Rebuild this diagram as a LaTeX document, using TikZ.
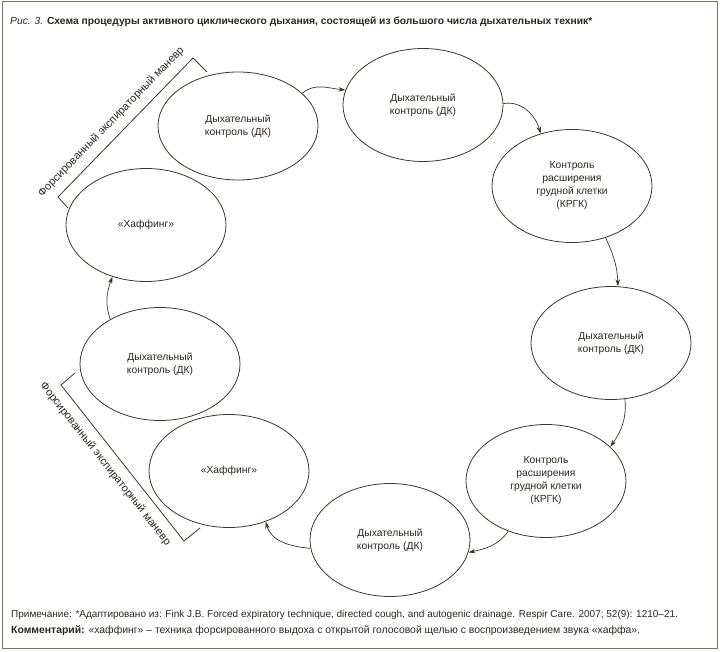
\documentclass[tikz,border=0pt]{standalone}
\usepackage{fontspec}
\setmainfont{Liberation Sans}
\usetikzlibrary{arrows.meta,shapes.geometric}
\definecolor{lc}{HTML}{3D342A}
\definecolor{tc}{HTML}{2B2520}
\definecolor{fc}{HTML}{7D7467}
\begin{document}
\begin{tikzpicture}[x=1pt,y=1pt,
  el/.style={ellipse,draw=lc,line width=0.8pt,minimum width=160pt,minimum height=113pt,inner sep=0pt,align=center,text=tc,font=\fontsize{10.3}{13}\selectfont},
  arr/.style={draw=lc,line width=0.7pt,-{Stealth[length=7pt,width=4.5pt]}},
  br/.style={draw=lc,line width=0.8pt},
  lbl/.style={text=tc,font=\fontsize{11}{13}\selectfont,inner sep=0pt,sloped}]
\useasboundingbox (0,0) rectangle (720,651);
\draw[fc,line width=1.6pt] (2.5,2.5) rectangle (717.5,649.5);
% title
\node[anchor=base west,text=tc,font=\fontsize{10.3}{12}\selectfont,inner sep=0pt] (title) at (10,626) {\textit{Рис. 3.} \textbf{Схема процедуры активного циклического дыхания, состоящей из большого числа дыхательных техник*}};
% ellipses
\node[el,minimum height=108pt] (E1) at (238,525) {Дыхательный\\контроль (ДК)};
\node[el] (E2) at (423,546) {Дыхательный\\контроль (ДК)};
\node[el] (E3) at (572,465) {Контроль\\расширения\\грудной клетки\\(КРГК)};
\node[el] (E4) at (611,308) {Дыхательный\\контроль (ДК)};
\node[el] (E5) at (546,170) {Контроль\\расширения\\грудной клетки\\(КРГК)};
\node[el] (E6) at (390,111) {Дыхательный\\контроль (ДК)};
\node[el] (E7) at (229,180) {«Хаффинг»};
\node[el] (E8) at (160,287) {Дыхательный\\контроль (ДК)};
\node[el] (E9) at (146,426) {«Хаффинг»};
% arrows
\draw[arr] (E1.27) to[out=40,in=175] (E2.169);
\draw[arr] (E2.1) to[out=10,in=105] (E3.121);
\draw[arr] (E3.-57) to[out=-65,in=92] (E4.83);
\draw[arr] (E4.-76) to[out=-85,in=55] (E5.28);
\draw[arr] (E5.-127) to[out=-125,in=12] (E6.-9);
\draw[arr] (E6.-174) to[out=175,in=-75] (E7.-54);
\draw[arr] (E8.138) to[out=110,in=-110] (E9.-123);
% brackets
\coordinate (t1) at (68,443);
\coordinate (t2) at (58,454);
\coordinate (t3) at (193,593);
\coordinate (t4) at (207,579);
\draw[br] (t1) -- (t2) -- node[lbl,above=8.5pt,pos=0.47] (ltop) {Форсированный экспираторный маневр} (t3) -- (t4);
\coordinate (b1) at (75,278);
\coordinate (b2) at (61,266);
\coordinate (b3) at (184,110);
\coordinate (b4) at (200,123);
\draw[br] (b1) -- (b2) -- node[lbl,below=8.5pt,pos=0.45] (lbot) {Форсированный экспираторный маневр} (b3) -- (b4);
% footnotes
\node[anchor=base west,text=tc,font=\fontsize{10}{12}\selectfont,inner sep=0pt] (n1) at (11,34) {Примечание: *Адаптировано из: Fink J.B. Forced expiratory technique, directed cough, and autogenic drainage. Respir Care. 2007; 52(9): 1210–21.};
\node[anchor=base west,text=tc,font=\fontsize{10.4}{12}\selectfont,inner sep=0pt] (n2) at (11,17.5) {\textbf{Комментарий:} «хаффинг» – техника форсированного выдоха с открытой голосовой щелью с воспроизведением звука «хаффа».};
\end{tikzpicture}
\end{document}
